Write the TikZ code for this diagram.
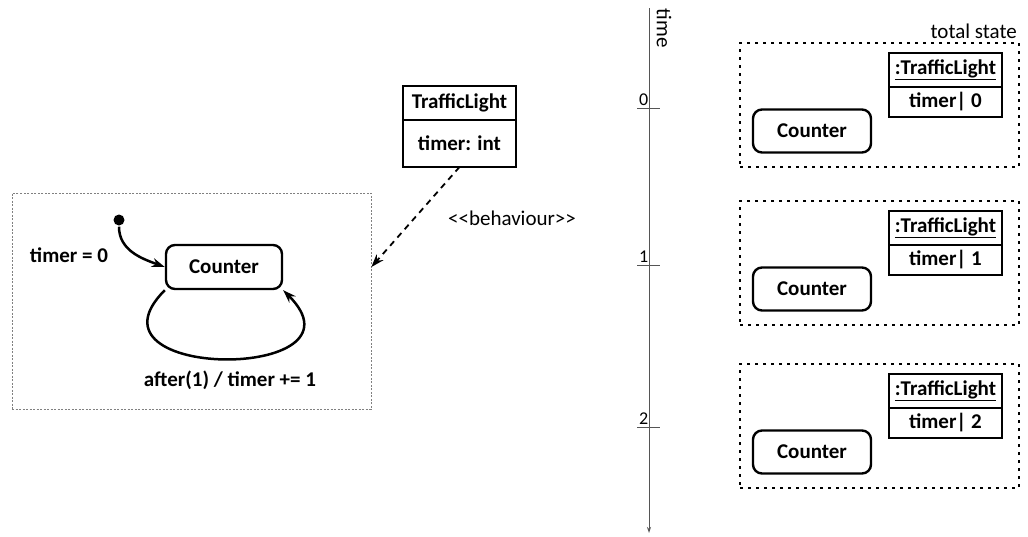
\documentclass[tikz,border=0pt]{standalone}
\usepackage{fontspec}
\setmainfont{Carlito}
\usetikzlibrary{arrows.meta, positioning}
\definecolor{caxis}{HTML}{555555}
\definecolor{cframe}{HTML}{808080}
\tikzset{
  every picture/.style={line width=2.4pt},
  lbl/.style={font=\fontsize{21}{25}\selectfont\bfseries, inner sep=2pt},
  plaintxt/.style={font=\fontsize{21}{25}\selectfont, inner sep=2pt},
  ticklbl/.style={font=\fontsize{18}{20}\selectfont, inner sep=1pt},
  state/.style={draw, rounded corners=9pt, lbl, minimum width=116pt, minimum height=44pt},
  classbox/.style={draw, lbl, outer sep=0pt, minimum width=113pt},
  initdot/.style={circle, fill, inner sep=0pt, minimum size=11pt},
  trans/.style={-{Stealth[length=13pt, width=9pt]}, line width=2.5pt},
  frame/.style={draw=cframe, line width=0.8pt, dash pattern=on 2pt off 1.5pt},
  snap/.style={draw, line width=2pt, dash pattern=on 3pt off 5pt, minimum width=279pt, minimum height=124pt},
  link/.style={-{Stealth[length=13pt, width=9pt]}, line width=1.8pt, dash pattern=on 6pt off 5pt},
  timeaxis/.style={draw=caxis, line width=1pt, -{Stealth[length=6pt, width=4pt]}},
  tickmark/.style={draw=caxis, line width=1pt},
}

\begin{document}
\begin{tikzpicture}[x=1pt, y=1pt]
  \useasboundingbox (0,0) rectangle (1028,-536);
  % behaviour of the class
  \node[frame, minimum width=359pt, minimum height=216pt] (machine) at (191.5,-301) {};
  \node[initdot] (init) at (119,-220) {};
  \node[state] (counter) at (224,-267) {Counter};
  \node[lbl] (initlbl) at (69,-255) {timer = 0};
  \node[lbl] (looplbl) at (230,-380) {after(1) / timer += 1};
  \draw[trans] (init) to[out=-90, in=160] (counter.west);
  \draw[trans] (counter.south west) to[out=-135, in=-45, looseness=2.8] (counter.south east);

  \node[classbox, minimum height=34pt] (tl) at (459.5,-103) {TrafficLight};
  \node[classbox, minimum height=47pt, below=0pt of tl] (tlattr) {timer: int};
  \draw[link] (tlattr.south) -- (machine.east |- counter.center);
  \node[plaintxt] (behav) at (512,-218) {<\kern0pt<behaviour>\kern0pt>};

  % time line
  \coordinate (ttop) at (649,-8);
  \coordinate (tbot) at (649,-533);
  \draw[timeaxis] (ttop) -- (tbot);
  \node[plaintxt, rotate=-90] (timelbl) at (664,-28) {time};
  \foreach \t/\y in {0/108, 1/265, 2/427}{
    \coordinate (tick\t a) at (637,-\y);
    \coordinate (tick\t b) at (660,-\y);
    \draw[tickmark] (tick\t a) -- (tick\t b);
    \node[ticklbl, anchor=south west] (tlbl\t) at (tick\t a) {\t};
  }

  % snapshots
  \foreach \i/\y in {0/42, 1/200, 2/363}{
    \node[snap, anchor=north west] (snap\i) at (739,-\y) {};
    \node[state, minimum width=118pt, minimum height=43pt] (cnt\i) at (812,-\y-89) {Counter};
    \node[classbox, minimum height=34pt, anchor=north] (obj\i) at (945.5,-\y-11) {\underline{:TrafficLight}};
    \node[classbox, minimum height=30pt, below=0pt of obj\i] (val\i) {timer| \i};
  }
  \node[plaintxt, anchor=south east] (total) at (snap0.north east) {total state};
\end{tikzpicture}
\end{document}
